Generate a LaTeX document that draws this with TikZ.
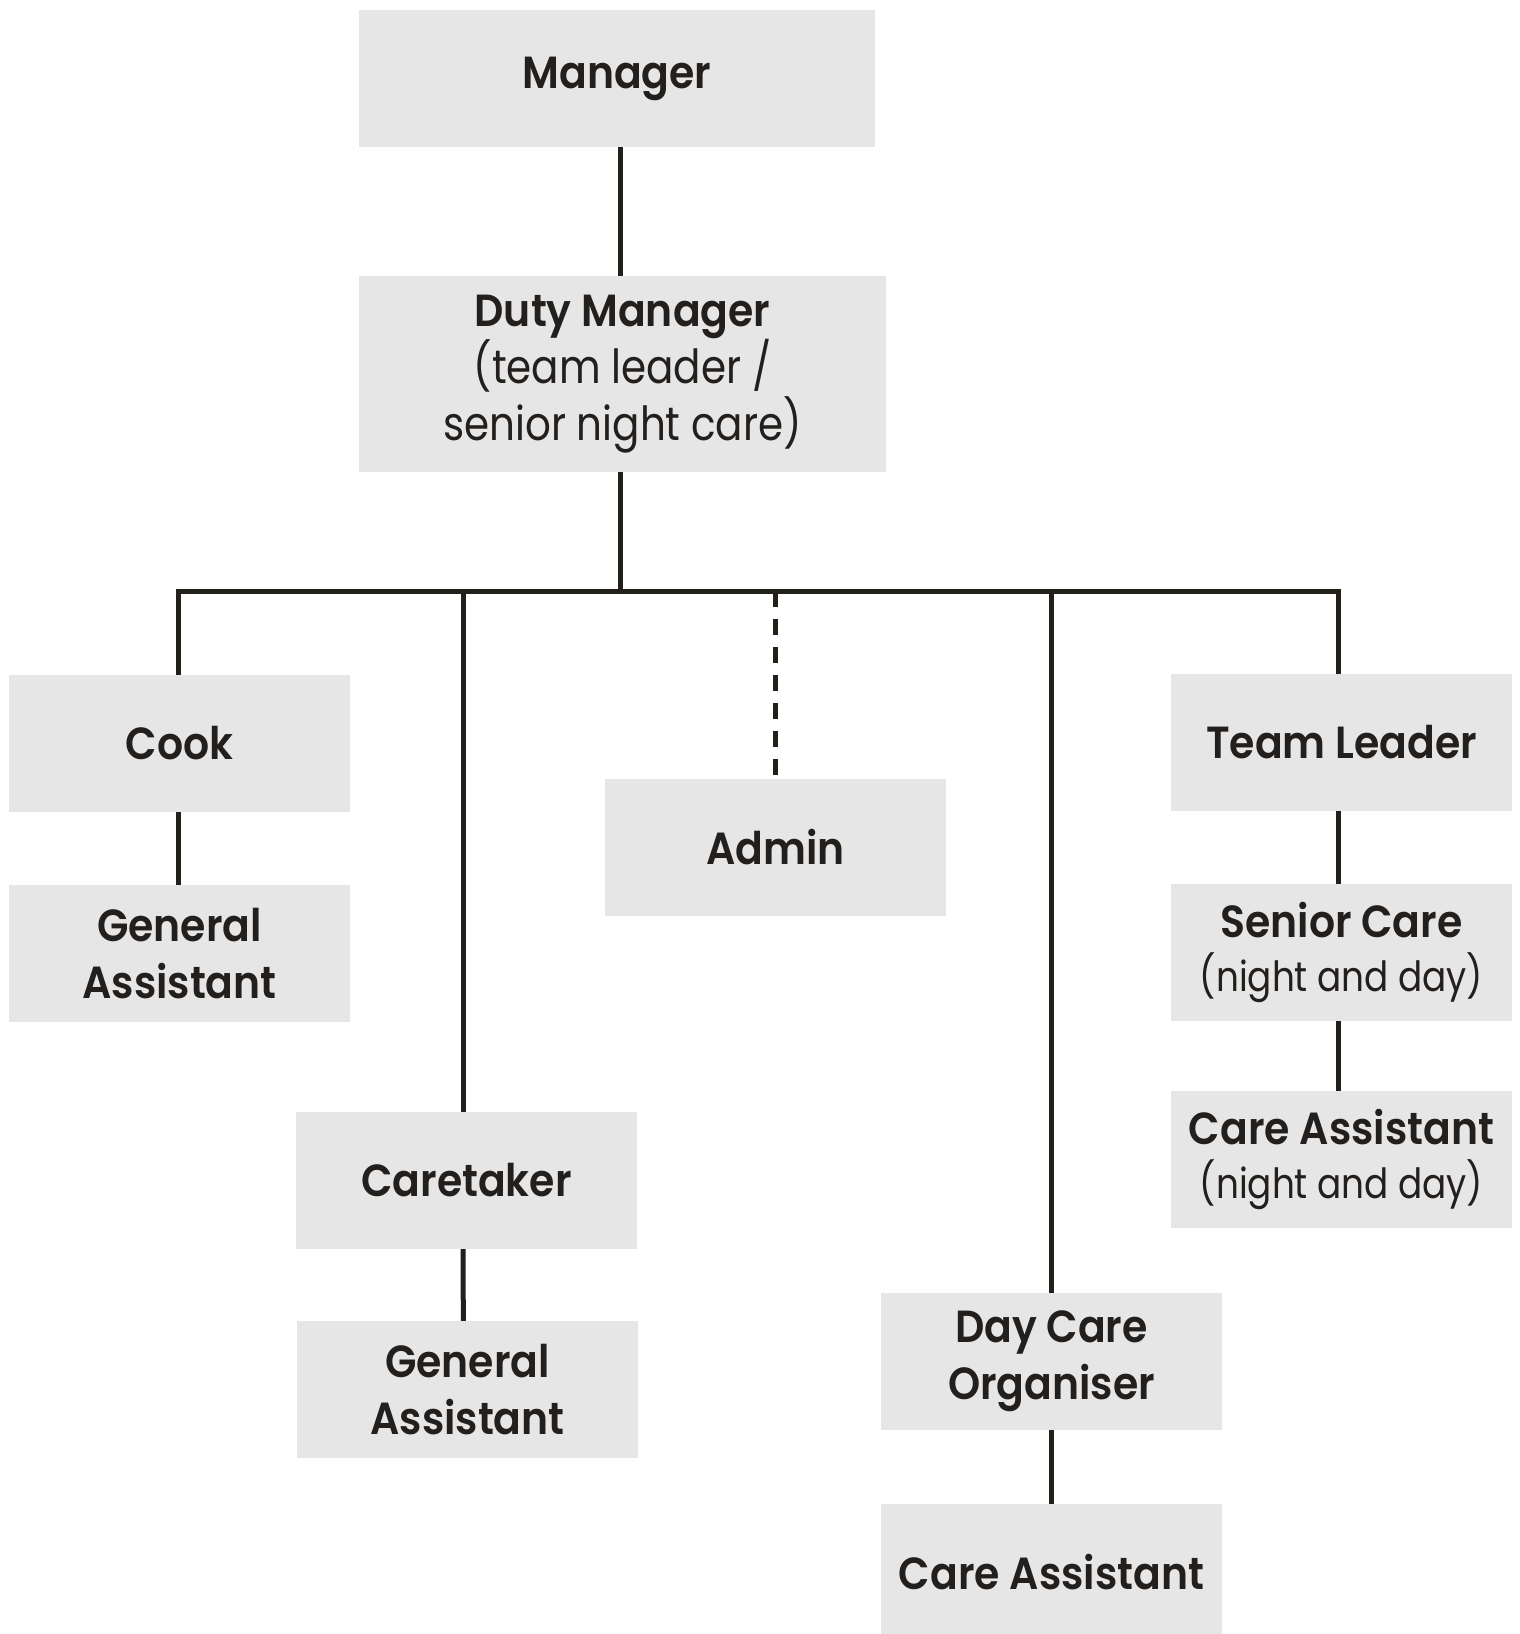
\documentclass[tikz,border=0pt]{standalone}
\usepackage{fontspec}
\setmainfont{Poppins}
\newfontfamily\bfam{Poppins SemiBold}[FakeStretch=0.91]
\newfontfamily\rfam{Poppins}[FakeStretch=0.86]
\usetikzlibrary{backgrounds}
\definecolor{linecol}{RGB}{35,31,26}
\definecolor{boxgray}{RGB}{230,230,230}
\definecolor{txtcol}{RGB}{35,31,28}
\newcommand{\bt}[1]{{\bfam #1}}
\newcommand{\rt}[1]{{\rfam\fontsize{47}{57}\selectfont #1}}
\newcommand{\rs}[1]{{\rfam\fontsize{41.6}{54}\selectfont #1}}
\tikzset{
  orgbox/.style={fill=boxgray, minimum width=341pt, minimum height=137pt, inner sep=0pt,
    align=center, text=txtcol, font=\fontsize{45}{57}\selectfont},
  conn/.style={draw=linecol, line width=5pt},
  dconn/.style={conn, dash pattern=on 16pt off 12pt}
}
\begin{document}
\begin{tikzpicture}[x=1pt,y=-1pt]
\useasboundingbox (0,0) rectangle (1519,1634);
\clip (0,0) rectangle (1519,1634);
\node[orgbox, minimum width=516pt] (man) at (617,78.5) {\bt{Manager}};
\node[orgbox, minimum width=527pt, minimum height=196pt] (duty) at (622.5,374)
  {\bt{Duty Manager}\\\rt{(team leader /}\\\rt{senior night care)}};
\node[orgbox] (cook) at (179.5,743.5) {\bt{Cook}};
\node[orgbox] (ga1) at (179.5,953.5) {\bt{General}\\\bt{Assistant}};
\node[orgbox] (care) at (466.5,1180.5) {\bt{Caretaker}};
\node[orgbox] (ga2) at (467.5,1389.5) {\bt{General}\\\bt{Assistant}};
\node[orgbox] (admin) at (775.5,847.5) {\bt{Admin}};
\node[orgbox] (dco) at (1051.5,1361.5) {\bt{Day Care}\\\bt{Organiser}};
\node[orgbox] (ca) at (1051.5,1572.5) {\bt{Care Assistant}};
\node[orgbox] (tl) at (1341.5,742.5) {\bt{Team Leader}};
\node[orgbox, font=\fontsize{45}{54}\selectfont] (sc) at (1341.5,952.5) {\bt{Senior Care}\\\rs{(night and day)}};
\node[orgbox, font=\fontsize{45}{54}\selectfont] (cand) at (1341.5,1159.5) {\bt{Care Assistant}\\\rs{(night and day)}};
\coordinate (bus) at (620,591);
\coordinate (stub) at ([xshift=-3.5pt,yshift=5pt]ga2.south);
\begin{scope}[on background layer]
\draw[conn] ([xshift=3pt]man.south) -- ([xshift=3pt]man.south |- duty.north);
\draw[conn] ([xshift=-2.5pt]duty.south) -- ([xshift=-2.5pt]duty.south |- bus);
\draw[conn, line join=miter] ([xshift=-1.5pt]cook.north) -- ([xshift=-1.5pt]cook.north |- bus)
  -- ([xshift=-3.5pt]tl.north |- bus) -- ([xshift=-3.5pt]tl.north);
\draw[conn] ([xshift=-1.5pt]cook.south) -- ([xshift=-1.5pt]ga1.north);
\draw[conn] ([xshift=-3.5pt]care.north |- bus) -- ([xshift=-3.5pt]care.north);
\draw[conn] ([xshift=-3.5pt]care.south) -- (stub);
\draw[dconn] (admin.north |- bus) -- (admin.north);
\draw[conn] (dco.north |- bus) -- (dco.north);
\draw[conn] (dco.south) -- (ca.north);
\draw[conn] ([xshift=-3.5pt]tl.south) -- ([xshift=-3.5pt]sc.north);
\draw[conn] ([xshift=-3.5pt]sc.south) -- ([xshift=-3.5pt]cand.north);
\end{scope}
\end{tikzpicture}
\end{document}
